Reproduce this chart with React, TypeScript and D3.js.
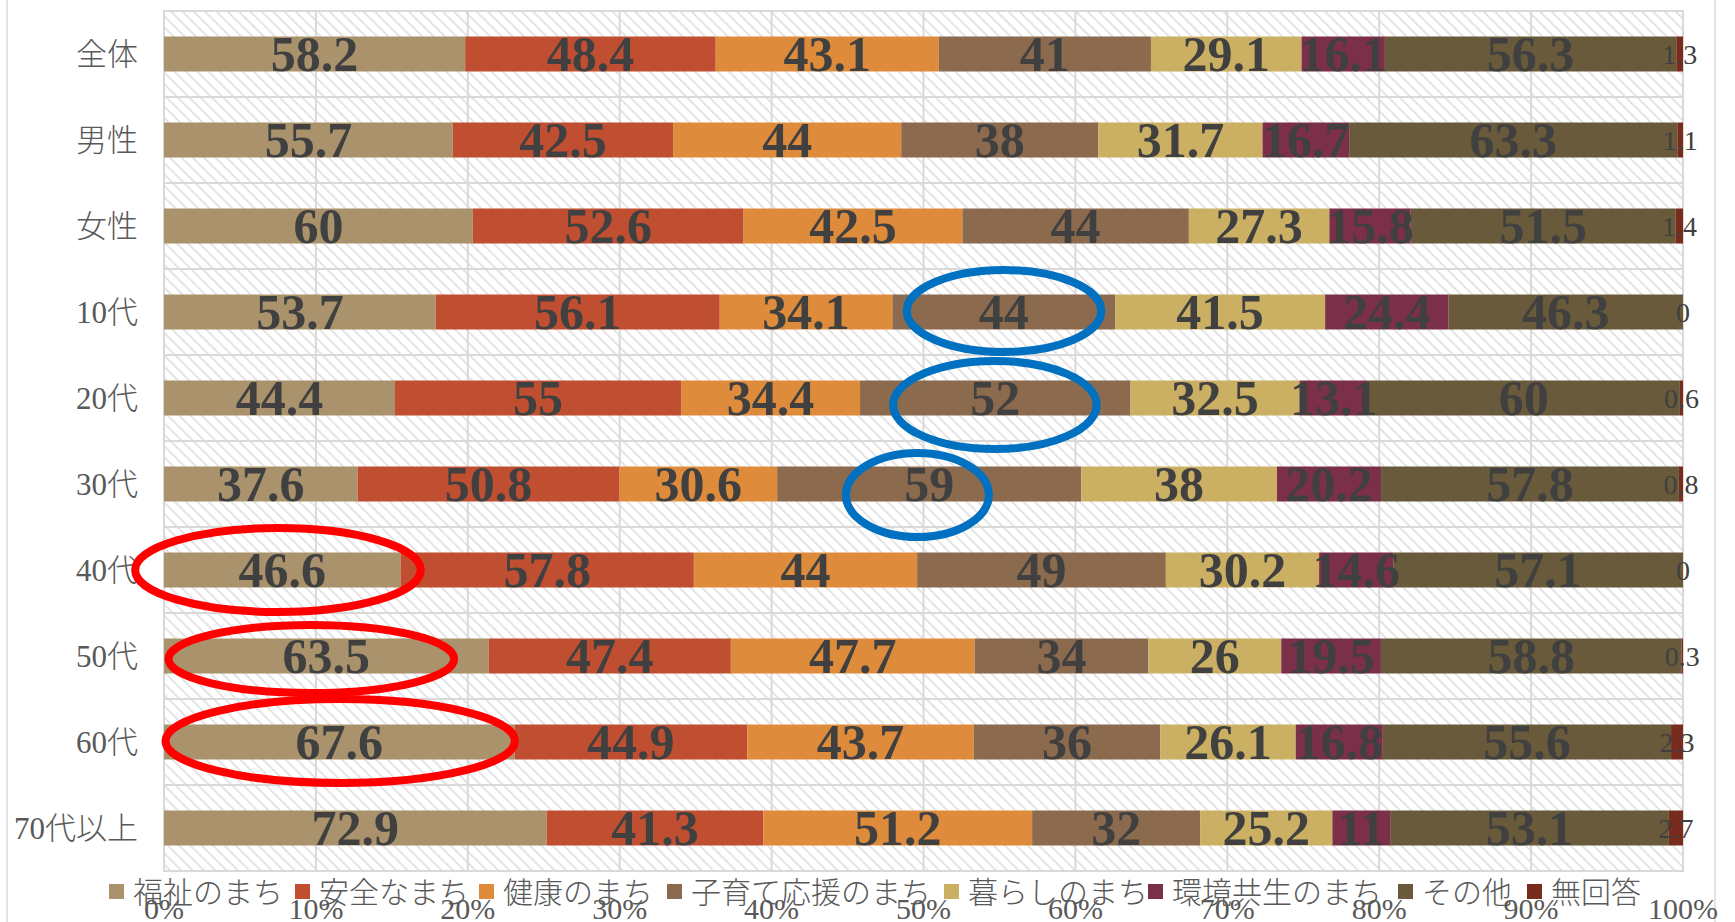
import React from "react";
import * as d3 from "d3";

const categories = ["全体", "男性", "女性", "10代", "20代", "30代", "40代", "50代", "60代", "70代以上"];
const seriesNames = ["福祉のまち", "安全なまち", "健康のまち", "子育て応援のまち", "暮らしのまち", "環境共生のまち", "その他", "無回答"];
const seriesColors = ["#AA936C", "#C04F31", "#DE8B3B", "#8C6A4E", "#CBB064", "#7C2F48", "#685A3A", "#772C1D"];

const fukushi = [58.2, 55.7, 60, 53.7, 44.4, 37.6, 46.6, 63.5, 67.6, 72.9];
const anzen = [48.4, 42.5, 52.6, 56.1, 55, 50.8, 57.8, 47.4, 44.9, 41.3];
const kenko = [43.1, 44, 42.5, 34.1, 34.4, 30.6, 44, 47.7, 43.7, 51.2];
const kosodate = [41, 38, 44, 44, 52, 59, 49, 34, 36, 32];
const kurashi = [29.1, 31.7, 27.3, 41.5, 32.5, 38, 30.2, 26, 26.1, 25.2];
const kankyo = [16.1, 16.7, 15.8, 24.4, 13.1, 20.2, 14.6, 19.5, 16.8, 11];
const sonota = [56.3, 63.3, 51.5, 46.3, 60, 57.8, 57.1, 58.8, 55.6, 53.1];
const mukaito = [1.3, 1.1, 1.4, 0, 0.6, 0.8, 0, 0.3, 2.3, 2.7];

const seriesValues = [fukushi, anzen, kenko, kosodate, kurashi, kankyo, sonota, mukaito];

const tickValues = [0, 0.1, 0.2, 0.3, 0.4, 0.5, 0.6, 0.7, 0.8, 0.9, 1];
const tickLabels = ["0%", "10%", "20%", "30%", "40%", "50%", "60%", "70%", "80%", "90%", "100%"];

// annotation ellipses (category, centre in %, horizontal radius in %, vertical radius, vertical offset, colour)
const annCats = ["10代", "20代", "30代", "40代", "50代", "60代"];
const annCx = [55.3, 54.7, 49.6, 7.5, 9.7, 11.6];
const annRx = [6.4, 6.7, 4.7, 9.4, 9.4, 11.5];
const annRy = [41, 44, 42, 42, 34, 42];
const annDy = [-1, 7, 11, 0, 3, -1];
const annColors = ["#0070C0", "#0070C0", "#0070C0", "#FF0000", "#FF0000", "#FF0000"];

const legendX = [109, 295, 479, 667, 944, 1148, 1398, 1527];

const W = 1735;
const H = 922;
const M = { left: 164, right: 1683, top: 11, bottom: 871 };

export default function App() {
  const rows = categories.map((c, i) => {
    const o: any = { cat: c };
    seriesNames.forEach((s, j) => (o[s] = seriesValues[j][i]));
    return o;
  });
  const stack = d3.stack<any>().keys(seriesNames).offset(d3.stackOffsetExpand);
  const layers = stack(rows);

  const x = d3.scaleLinear().domain([0, 1]).range([M.left, M.right]);
  const y = d3.scaleBand<string>().domain(categories).range([M.top, M.bottom]).paddingInner(0).paddingOuter(0);
  const barH = 35;
  const serif = "'Liberation Serif', 'Times New Roman', 'Noto Sans CJK JP', serif";
  const cjk = "'Liberation Serif', 'Noto Sans CJK JP', sans-serif";

  return (
    <svg width={W} height={H} style={{ position: "absolute", left: 0, top: 0, display: "block", background: "#fff" }}>
      <defs>
        <pattern id="hatch" width="8" height="8" patternUnits="userSpaceOnUse" patternTransform="rotate(-45)">
          <rect width="8" height="8" fill="#ffffff" />
          <line x1="0" y1="0" x2="0" y2="8" stroke="#dcdcdc" strokeWidth="3" />
        </pattern>
      </defs>
      {/* slide edges */}
      <line x1={7} x2={7} y1={0} y2={H} stroke="#e4e4e4" strokeWidth={2} />
      <line x1={1715} x2={1715} y1={0} y2={H} stroke="#e4e4e4" strokeWidth={2} />

      {/* plot background */}
      <rect x={M.left} y={M.top} width={M.right - M.left} height={M.bottom - M.top} fill="url(#hatch)" />
      {/* vertical grid */}
      {tickValues.map((t, i) => (
        <line key={"vg" + i} x1={x(t)} x2={x(t)} y1={M.top} y2={M.bottom} stroke="#d9d9d9" strokeWidth={2} />
      ))}
      {/* horizontal grid */}
      {categories.map((c, i) => (
        <line key={"hg" + i} x1={M.left} x2={M.right} y1={y(c)!} y2={y(c)!} stroke="#d9d9d9" strokeWidth={2} />
      ))}
      <rect x={M.left} y={M.top} width={M.right - M.left} height={M.bottom - M.top} fill="none" stroke="#d9d9d9" strokeWidth={2} />

      {/* bars */}
      {layers.map((layer, j) =>
        layer.map((d, i) => {
          const cy = y(categories[i])! + y.bandwidth() / 2;
          return (
            <rect
              key={`b${j}-${i}`}
              x={x(d[0])}
              y={cy - barH / 2}
              width={Math.max(0, x(d[1]) - x(d[0]))}
              height={barH}
              fill={seriesColors[j]}
            />
          );
        })
      )}
      {/* labels */}
      {layers.map((layer, j) =>
        layer.map((d, i) => {
          const cy = y(categories[i])! + y.bandwidth() / 2;
          const cx = (x(d[0]) + x(d[1])) / 2;
          const last = j === seriesNames.length - 1;
          const fs = last ? 28 : 50;
          return (
            <text
              key={`l${j}-${i}`}
              x={cx}
              y={cy + fs * 0.34}
              textAnchor="middle"
              fontFamily={serif}
              fontWeight={last ? 400 : 700}
              fontSize={fs}
              fill="#404040"
            >
              {seriesValues[j][i]}
            </text>
          );
        })
      )}

      {/* category labels */}
      {categories.map((c, i) => (
        <text
          key={"c" + i}
          x={138}
          y={y(c)! + y.bandwidth() / 2 + 11}
          textAnchor="end"
          fontFamily={cjk}
          fontSize={31}
          fontWeight={300}
          fill="#595959"
        >
          {c}
        </text>
      ))}

      {/* x tick labels */}
      {tickValues.map((t, i) => (
        <text key={"t" + i} x={x(t)} y={919} textAnchor="middle" fontFamily={serif} fontSize={30} fill="#595959">
          {tickLabels[i]}
        </text>
      ))}

      {/* legend */}
      {seriesNames.map((s, j) => (
        <g key={"lg" + j} transform={`translate(${legendX[j]},0)`}>
          <rect x={0} y={884} width={15} height={15} fill={seriesColors[j]} />
          <text x={24} y={903} fontFamily={cjk} fontSize={30} fontWeight={300} fill="#595959">
            {s}
          </text>
        </g>
      ))}

      {/* annotations */}
      {annCats.map((c, k) => (
        <ellipse
          key={"a" + k}
          cx={x(annCx[k] / 100)}
          cy={y(c)! + y.bandwidth() / 2 + annDy[k]}
          rx={(x(annRx[k] / 100) - x(0))}
          ry={annRy[k]}
          fill="none"
          stroke={annColors[k]}
          strokeWidth={8}
        />
      ))}
    </svg>
  );
}
